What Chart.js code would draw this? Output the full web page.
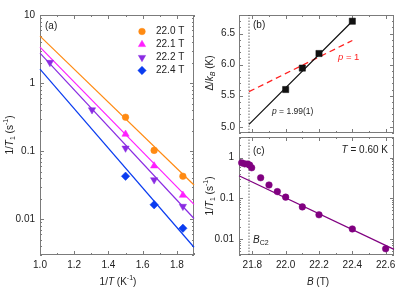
<!DOCTYPE html>
<html>
<head>
<meta charset="utf-8">
<script src="https://cdn.jsdelivr.net/npm/chart.js@4"></script>
<style>
  html, body { margin: 0; padding: 0; background: #fff; }
  #wrap { position: relative; width: 415px; height: 294px; }
  canvas { position: absolute; left: 0; top: 0; }
</style>
</head>
<body>
<div id="wrap">
  <canvas id="chartA" width="415" height="294"></canvas>
  <canvas id="chartB" width="415" height="294"></canvas>
  <canvas id="chartC" width="415" height="294"></canvas>
</div>
<script>
// Panel (a): 1/T1 vs 1/T at four fields
const fieldLabels = ["22.0 T", "22.1 T", "22.2 T", "22.4 T"];
const invT = [1.5, 1.667, 1.835];
const invT222 = [1.058, 1.304, 1.5, 1.667, 1.835];
const rate220 = [0.316, 0.103, 0.043];
const rate221 = [0.178, 0.061, 0.0226];
const rate222 = [2.01, 0.405, 0.111, 0.038, 0.0155];
const rate224 = [0.043, 0.0164, 0.0074];
const fitInvT = [1.0, 1.9];
const fit220 = [4.9, 0.032];
const fit221 = [3.38, 0.0166];
const fit222 = [2.76, 0.0103];
const fit224 = [1.6, 0.0039];
const invTRange = [1.0, 1.9];
const rateRangeA = [0.003, 10];

// Panel (b): gap vs field
const gapField = [22.0, 22.1, 22.2, 22.4];
const gapValues = [5.60, 5.945, 6.18, 6.70];
const gapFitField = [21.78, 22.4];
const gapFitP2 = [5.04, 6.70];
const gapFitP1 = [5.565, 6.39];
const gapRange = [4.9, 6.8];

// Panel (c): 1/T1 vs field at T = 0.60 K
const fieldC = [21.736, 21.754, 21.772, 21.784, 21.796, 21.85, 21.9, 21.95, 22.0, 22.1, 22.2, 22.4, 22.6];
const rateC = [0.74, 0.70, 0.69, 0.65, 0.56, 0.318, 0.211, 0.145, 0.106, 0.061, 0.039, 0.0175, 0.0057];
const fitFieldC = [21.72, 22.65];
const fitRateC = [0.356, 0.0055];
const rateRangeC = [0.004, 3.2];
const fieldRange = [21.72, 22.65];
const bc2 = 21.78;

// tick labels
const ticksInvT = [1.0, 1.2, 1.4, 1.6, 1.8];
const ticksRateA = [0.01, 0.1, 1, 10];
const ticksGap = [5.0, 5.5, 6.0, 6.5];
const ticksField = [21.8, 22.0, 22.2, 22.4, 22.6];
const ticksRateC = [0.01, 0.1, 1];

const fontFamily = "'Liberation Sans', Arial, Helvetica, sans-serif";
Chart.defaults.font.family = fontFamily;
Chart.defaults.font.size = 10;
Chart.defaults.color = "#222";

const orange = "#ff8a12";
const magenta = "#ff1eff";
const violet = "#8a2be2";
const blue = "#0a3cf0";
const plum = "#800080";

function pts(xs, ys) {
  return xs.map((x, i) => ({ x, y: ys[i] }));
}

function markers(label, xs, ys, color, style, radius, rotation = 0) {
  return {
    label, data: pts(xs, ys), showLine: false, clip: false,
    pointStyle: style, pointRadius: radius, pointRotation: rotation,
    backgroundColor: color, borderColor: color, pointBorderWidth: 0.5
  };
}

function fitLine(xs, ys, color, dash = [], width = 1.2) {
  return {
    data: pts(xs, ys), showLine: true, pointRadius: 0, clip: false,
    borderColor: color, borderWidth: width, borderDash: dash, fill: false
  };
}

function axis(type, range, ticks, fmt, size, pad, show = true) {
  return {
    type, min: range[0], max: range[1],
    grid: { display: false, drawTicks: false },
    border: { display: false },
    ticks: { display: show, padding: pad, autoSkip: false, maxRotation: 0, callback: fmt },
    afterBuildTicks: s => { s.ticks = ticks.map(v => ({ value: v })); },
    afterFit: s => { if (s.isHorizontal()) s.height = size; else s.width = size; }
  };
}

function linSteps(min, max, step) {
  const out = [];
  for (let v = Math.ceil(min / step - 1e-6) * step; v <= max + 1e-9; v += step) out.push(v);
  return out;
}

function logSteps(min, max) {
  const out = [];
  for (let e = Math.floor(Math.log10(min)); e <= Math.ceil(Math.log10(max)); e++) {
    for (let k = 2; k < 10; k++) {
      const v = k * Math.pow(10, e);
      if (v >= min && v <= max) out.push(v);
    }
  }
  return out;
}

// box with inward ticks on all four sides
const framePlugin = {
  id: "frame",
  beforeDatasetsDraw(chart, args, opts) {
    const { ctx, chartArea: a } = chart;
    const xs = chart.scales.x, ys = chart.scales.y;
    ctx.save();
    ctx.strokeStyle = "#7b7b7b";
    ctx.lineWidth = 1;
    ctx.strokeRect(a.left + 0.5, a.top + 0.5, a.width - 1, a.height - 1);
    ctx.beginPath();
    const tx = (v, len) => {
      const p = Math.round(xs.getPixelForValue(v)) + 0.5;
      ctx.moveTo(p, a.bottom); ctx.lineTo(p, a.bottom - len);
      ctx.moveTo(p, a.top); ctx.lineTo(p, a.top + len);
    };
    const ty = (v, len) => {
      const p = Math.round(ys.getPixelForValue(v)) + 0.5;
      ctx.moveTo(a.left, p); ctx.lineTo(a.left + len, p);
      ctx.moveTo(a.right, p); ctx.lineTo(a.right - len, p);
    };
    opts.xMajor.forEach(v => tx(v, 4));
    linSteps(xs.min, xs.max, opts.xStep).forEach(v => tx(v, 2));
    opts.yMajor.forEach(v => ty(v, 4));
    const yMinor = opts.yLog ? logSteps(ys.min, ys.max) : linSteps(ys.min, ys.max, opts.yStep);
    yMinor.forEach(v => ty(v, 2));
    ctx.stroke();
    ctx.restore();
  }
};

// text with italics, sub- and superscripts
function drawRich(ctx, item) {
  const size = item.size || 10;
  const segs = item.parts.map(([t, s = ""]) => {
    const small = s.includes("sub") || s.includes("sup");
    const fs = small ? size * 0.7 : size;
    const font = (s.startsWith("i") ? "italic " : "") + fs + "px " + fontFamily;
    ctx.font = font;
    const dy = s.includes("sub") ? size * 0.3 : s.includes("sup") ? -size * 0.38 : 0;
    return { t, font, dy, w: ctx.measureText(t).width };
  });
  const total = segs.reduce((sum, s) => sum + s.w, 0);
  let x0 = item.align === "center" ? -total / 2 : item.align === "right" ? -total : 0;
  ctx.save();
  ctx.translate(item.x, item.y);
  if (item.rotate) ctx.rotate(-Math.PI / 2);
  ctx.fillStyle = item.color || "#222";
  ctx.textBaseline = "middle";
  ctx.textAlign = "left";
  segs.forEach(s => {
    ctx.font = s.font;
    ctx.fillText(s.t, x0, s.dy);
    x0 += s.w;
  });
  ctx.restore();
}

const notesPlugin = {
  id: "notes",
  afterDraw(chart, args, opts) {
    const ctx = chart.ctx;
    (opts.items || []).forEach(item => drawRich(ctx, item));
    const lg = opts.legend;
    if (lg) {
      chart.data.datasets.slice(0, lg.count).forEach((ds, i) => {
        const y = lg.y + i * lg.step;
        ctx.save();
        ctx.fillStyle = ds.backgroundColor;
        ctx.strokeStyle = ds.borderColor;
        ctx.lineWidth = 0.5;
        Chart.helpers.drawPoint(ctx, {
          pointStyle: ds.pointStyle, rotation: ds.pointRotation,
          radius: ds.pointRadius, borderWidth: 0.5
        }, lg.x, y);
        ctx.restore();
        drawRich(ctx, { parts: [[ds.label]], x: lg.textX, y, size: 10 });
      });
    }
  }
};

const invTitle = [["1/"], ["T", "i"], ["1", "sub"], [" (s"], ["-1", "sup"], [")"]];

// (a)
new Chart(document.getElementById("chartA"), {
  type: "scatter",
  data: {
    datasets: [
      markers(fieldLabels[0], invT, rate220, orange, "circle", 3.3),
      markers(fieldLabels[1], invT, rate221, magenta, "triangle", 4.2),
      markers(fieldLabels[2], invT222, rate222, violet, "triangle", 4.2, 180),
      markers(fieldLabels[3], invT, rate224, blue, "rectRot", 4.2),
      fitLine(fitInvT, fit220, orange),
      fitLine(fitInvT, fit221, magenta),
      fitLine(fitInvT, fit222, violet),
      fitLine(fitInvT, fit224, blue)
    ]
  },
  options: {
    responsive: false, animation: false, devicePixelRatio: 1,
    layout: { padding: { left: 0, top: 15, right: 415 - 194, bottom: 0 } },
    scales: {
      x: axis("linear", invTRange, ticksInvT, v => v.toFixed(1), 294 - 255, 4),
      y: axis("logarithmic", rateRangeA, ticksRateA, v => String(v), 40, 5)
    },
    plugins: {
      legend: { display: false },
      tooltip: { enabled: false },
      frame: { xMajor: ticksInvT, xStep: 0.1, yMajor: ticksRateA, yLog: true },
      notes: {
        legend: { count: 4, x: 142, textX: 156, y: 31.5, step: 13 },
        items: [
          { parts: [["(a)"]], x: 45, y: 26 },
          { parts: invTitle, x: 10, y: 135, align: "center", rotate: true },
          { parts: [["1/"], ["T", "i"], [" (K"], ["-1", "sup"], [")"]], x: 118, y: 282, align: "center" }
        ]
      }
    }
  },
  plugins: [framePlugin, notesPlugin]
});

// (b)
new Chart(document.getElementById("chartB"), {
  type: "scatter",
  data: {
    datasets: [
      markers("gap", gapField, gapValues, "#111", "rect", 4.4),
      fitLine(gapFitField, gapFitP2, "#111"),
      fitLine(gapFitField, gapFitP1, "#ff2020", [6, 4], 1.3),
      fitLine([bc2, bc2], gapRange, "#444", [1.5, 1.5], 0.8)
    ]
  },
  options: {
    responsive: false, animation: false, devicePixelRatio: 1,
    layout: { padding: { left: 0, top: 15, right: 415 - 394, bottom: 0 } },
    scales: {
      x: axis("linear", fieldRange, ticksField, v => v.toFixed(1), 294 - 133, 4, false),
      y: axis("linear", gapRange, ticksGap, v => v.toFixed(1), 239, 4)
    },
    plugins: {
      legend: { display: false },
      tooltip: { enabled: false },
      frame: { xMajor: ticksField, xStep: 0.1, yMajor: ticksGap, yStep: 0.1 },
      notes: {
        items: [
          { parts: [["(b)"]], x: 253, y: 25 },
          { parts: [["\u0394/"], ["k", "i"], ["B", "isub"], [" (K)"]], x: 210, y: 73, align: "center", rotate: true },
          { parts: [["p", "i"], [" = 1.99(1)"]], x: 272, y: 112, size: 8.5 },
          { parts: [["p", "i"], [" = 1"]], x: 338, y: 57, size: 9.5, color: "#ff2020" }
        ]
      }
    }
  },
  plugins: [framePlugin, notesPlugin]
});

// (c)
new Chart(document.getElementById("chartC"), {
  type: "scatter",
  data: {
    datasets: [
      markers("0.60 K", fieldC, rateC, plum, "circle", 3.3),
      fitLine(fitFieldC, fitRateC, plum),
      fitLine([bc2, bc2], rateRangeC, "#444", [1.5, 1.5], 0.8)
    ]
  },
  options: {
    responsive: false, animation: false, devicePixelRatio: 1,
    layout: { padding: { left: 0, top: 137, right: 415 - 394, bottom: 0 } },
    scales: {
      x: axis("linear", fieldRange, ticksField, v => v.toFixed(1), 294 - 255, 4),
      y: axis("logarithmic", rateRangeC, ticksRateC, v => String(v), 239, 5)
    },
    plugins: {
      legend: { display: false },
      tooltip: { enabled: false },
      frame: { xMajor: ticksField, xStep: 0.1, yMajor: ticksRateC, yLog: true },
      notes: {
        items: [
          { parts: [["(c)"]], x: 253, y: 151 },
          { parts: [["T", "i"], [" = 0.60 K"]], x: 388, y: 150, align: "right" },
          { parts: [["B", "i"], ["C2", "sub"]], x: 253, y: 240 },
          { parts: invTitle, x: 210, y: 196, align: "center", rotate: true },
          { parts: [["B", "i"], [" (T)"]], x: 318, y: 282, align: "center" }
        ]
      }
    }
  },
  plugins: [framePlugin, notesPlugin]
});
</script>
</body>
</html>
